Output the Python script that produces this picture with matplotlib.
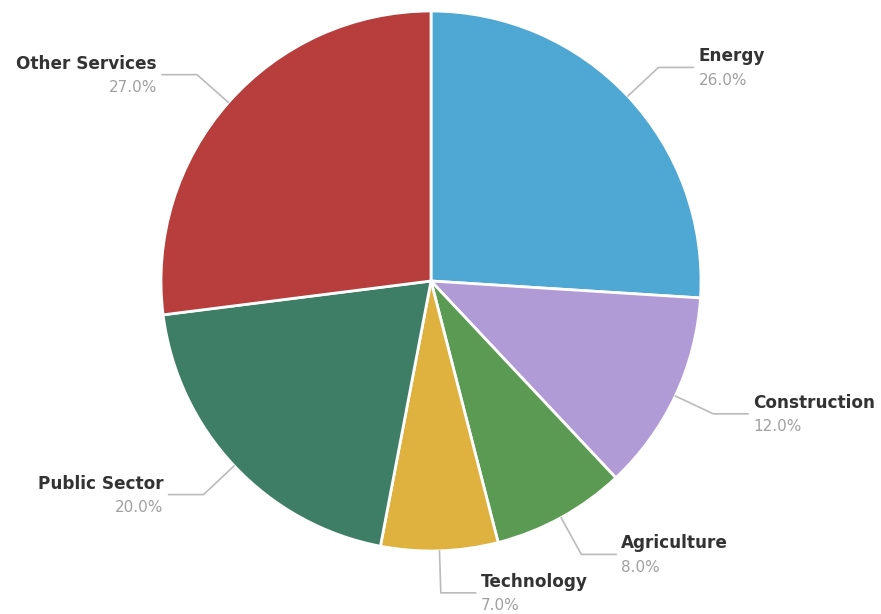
import matplotlib
matplotlib.use("Agg")
import matplotlib.pyplot as plt
import numpy as np

labels = ["Energy", "Construction", "Agriculture", "Technology",
          "Public Sector", "Other Services"]
values = [26.0, 12.0, 8.0, 7.0, 20.0, 27.0]
colors = ["#4fa8d4", "#b19bd6", "#5b9a52", "#dfb23f", "#3f7e66", "#b73e3c"]

plt.rcParams["font.family"] = ["DejaVu Sans"]

W, H = 881, 614
fig = plt.figure(figsize=(W / 100, H / 100), dpi=100)
ax = fig.add_axes([0, 0, 1, 1])

cx, cy, r = 431, H - 281, 270
ax.pie(values, colors=colors, startangle=90, counterclock=False,
       center=(cx, cy), radius=r, frame=True,
       wedgeprops=dict(edgecolor="white", linewidth=2))
ax.set_xlim(0, W)
ax.set_ylim(0, H)
ax.set_aspect("equal")
ax.axis("off")

# leader lines: radial out from the slice edge, then a short horizontal run
total = sum(values)
cum = 0
for lab, v in zip(labels, values):
    mid = (cum + v / 2) / total * 2 * np.pi
    cum += v
    sx, cyy = np.sin(mid), np.cos(mid)
    x0, y0 = cx + r * sx, cy + r * cyy
    x1, y1 = cx + 312 * sx, cy + 312 * cyy
    side = 1 if sx >= 0 else -1
    x2 = x1 + side * 35
    ax.plot([x0, x1, x2], [y0, y1, y1], color="#bbbbbb", lw=1.2,
            solid_capstyle="round")
    ha = "left" if side > 0 else "right"
    tx = x2 + side * 5
    ax.text(tx, y1 + 11, lab, ha=ha, va="center", fontsize=12.2,
            fontweight="bold", color="#333333")
    ax.text(tx, y1 - 13, f"{v:.1f}%", ha=ha, va="center", fontsize=11,
            color="#a0a0a0")

fig.savefig("out.png", dpi=100)
